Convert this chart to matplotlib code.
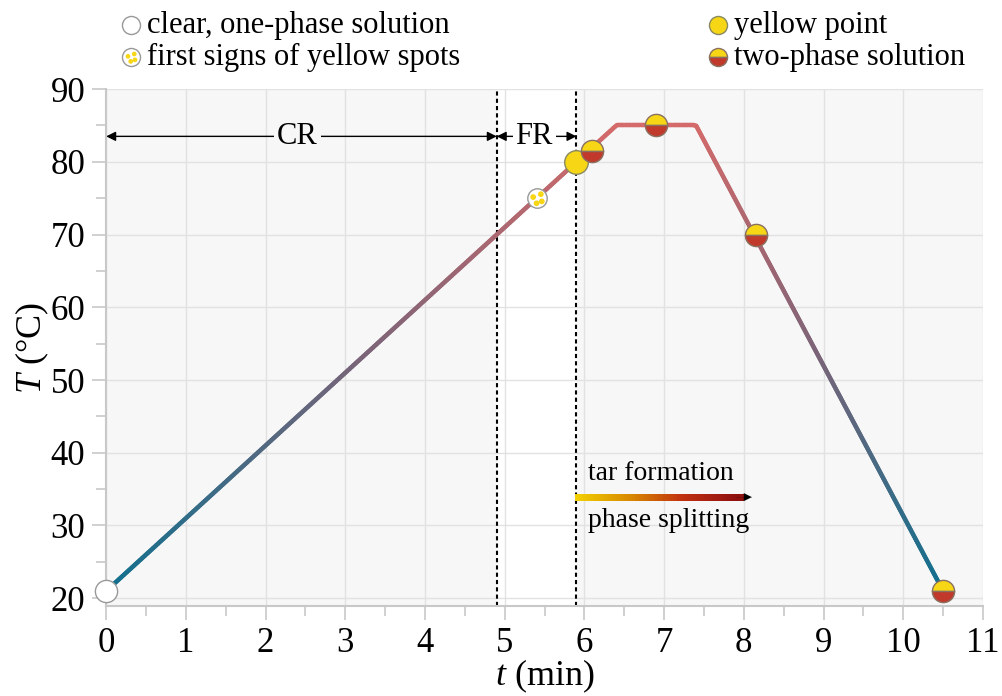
import numpy as np
import matplotlib
matplotlib.use('Agg')
import matplotlib.pyplot as plt
from matplotlib.collections import LineCollection
from matplotlib.colors import LinearSegmentedColormap
from matplotlib.lines import Line2D
from matplotlib.path import Path

plt.rcParams['font.family'] = ['Liberation Serif', 'DejaVu Serif']
plt.rcParams['mathtext.fontset'] = 'custom'
plt.rcParams['mathtext.rm'] = 'Liberation Serif'
plt.rcParams['mathtext.it'] = 'Liberation Serif:italic'

# temperature programme
line_t = [0, 6.4, 7.4, 10.5]
line_T = [21, 85, 85, 21]

# observations
clear_t, clear_T = [0], [21]
spots_t, spots_T = [5.4], [75]
yellow_t, yellow_T = [5.9], [80]
two_t = [6.1, 6.9, 8.15, 10.5]
two_T = [81.5, 85, 70, 21]

cr_end = 4.9
fr_end = 5.9
xticks = list(range(0, 12))
yticks = list(range(20, 91, 10))

YEL = '#f7d616'
RED = '#c0392b'
GRID = '#e2e2e2'

fig = plt.figure(figsize=(10.02, 6.96), dpi=100)
ax = fig.add_axes([0.106, 0.129, 0.875, 0.743])
ax.set_facecolor('#f7f7f7')
ax.set_xlim(0, 11)
ax.set_ylim(18.9, 90)

# white band for FR region
ax.axvspan(cr_end, fr_end, color='white', zorder=0)
ax.set_xticks(xticks)
ax.set_yticks(yticks)
ax.set_xticks(np.arange(0.5, 11, 1), minor=True)
ax.set_yticks(np.arange(25, 90, 10), minor=True)
ax.grid(True, which='major', color=GRID, lw=1.0, zorder=0.5)
ax.set_axisbelow(True)
for s in ['top', 'right']:
    ax.spines[s].set_visible(False)
for s in ['left', 'bottom']:
    ax.spines[s].set_color('#c8c8c8')
    ax.spines[s].set_linewidth(1.5)
ax.tick_params(which='both', color='#c8c8c8', width=1.2, labelsize=25)
ax.tick_params(which='major', length=10, pad=5)
ax.tick_params(which='minor', length=7)

ax.set_xlabel('$t$ (min)', fontsize=26, labelpad=-2)
ax.set_ylabel('$T$ (°C)', fontsize=26, labelpad=0)

# gradient coloured line
cmap = LinearSegmentedColormap.from_list('tc', ['#10708f', '#7a6478', '#d46a6a'])
s = np.linspace(0, 1, 600)
cum = np.concatenate([[0], np.cumsum(np.hypot(np.diff(line_t), np.diff(line_T) / 10))])
tt = np.interp(s * cum[-1], cum, line_t)
TT = np.interp(s * cum[-1], cum, line_T)
pts = np.array([tt, TT]).T.reshape(-1, 1, 2)
segs = np.concatenate([pts[:-1], pts[1:]], axis=1)
lc = LineCollection(segs, cmap=cmap, norm=plt.Normalize(21, 85), lw=3.2, zorder=3,
                    capstyle='round')
lc.set_array((TT[:-1] + TT[1:]) / 2)
ax.add_collection(lc)

# vertical dashed lines
for xv in [cr_end, fr_end]:
    ax.axvline(xv, color='black', ls=(0, (2, 1.5)), lw=1.5, zorder=2)

# CR / FR arrows
ya = 83.5
for x0, x1, lab, bg, xc in [(0, cr_end, 'CR', '#f7f7f7', 2.4),
                            (cr_end, fr_end, 'FR', 'white', 5.37)]:
    ax.annotate('', xy=(x0, ya), xytext=(x1, ya),
                arrowprops=dict(arrowstyle='<|-|>', color='black', lw=1,
                                mutation_scale=14, shrinkA=0, shrinkB=0), zorder=4)
    ax.text(xc, ya, lab, fontsize=22, ha='center', va='center', zorder=5,
            bbox=dict(facecolor=bg, edgecolor='none', pad=2))

# gradient arrow for tar formation
acmap = LinearSegmentedColormap.from_list('ar', ['#f2d000', '#d88a00', '#c03010', '#901010'])
ax_x = np.linspace(fr_end + 0.02, 7.95, 120)
ay = np.full_like(ax_x, 33.9)
apts = np.array([ax_x, ay]).T.reshape(-1, 1, 2)
asegs = np.concatenate([apts[:-1], apts[1:]], axis=1)
alc = LineCollection(asegs, cmap=acmap, lw=5, zorder=4, antialiaseds=False,
                     capstyle='projecting')
alc.set_array(np.linspace(0, 1, len(asegs)))
ax.add_collection(alc)
ax.annotate('', xy=(8.1, 33.9), xytext=(7.9, 33.9),
            arrowprops=dict(arrowstyle='-|>', color='black', lw=0.1,
                            mutation_scale=14, shrinkA=0, shrinkB=0), zorder=5)
ax.text(6.05, 35.4, 'tar formation', fontsize=20, ha='left', va='bottom', zorder=5)
ax.text(6.05, 32.4, 'phase splitting', fontsize=20, ha='left', va='top', zorder=5)

# dotted marker path
dots = Path.make_compound_path(*[Path.circle(c, 0.3) for c in
                                 [(0.35, 0.45), (-0.45, 0.15), (0.45, -0.3), (-0.1, -0.5)]])

ms = 16
ax.plot(clear_t, clear_T, 'o', ms=ms, mfc='white', mec='#999999', mew=1, zorder=6,
        clip_on=False)
ax.plot(spots_t, spots_T, 'o', ms=ms - 2, mfc='white', mec='#999999', mew=1, zorder=6)
ax.plot(spots_t, spots_T, ls='none', marker=dots, ms=11, mfc=YEL, mec='none', zorder=7)
ax.plot(yellow_t, yellow_T, 'o', ms=ms + 1, mfc=YEL, mec='#8a8a60', mew=1, zorder=6)
ax.plot(two_t, two_T, 'o', ms=ms, fillstyle='top', mfc=YEL, mfcalt=RED,
        mec='#8a7060', mew=1, zorder=6, clip_on=False)

# legend in figure coordinates
leg = [
    (0.131, 0.964, dict(mfc='white', mec='#999999'), 'clear, one-phase solution'),
    (0.131, 0.918, dict(mfc='white', mec='#999999'), 'first signs of yellow spots'),
    (0.717, 0.964, dict(mfc=YEL, mec='#8a8a60'), 'yellow point'),
    (0.717, 0.918, dict(mfc=YEL, mfcalt=RED, fillstyle='top', mec='#8a7060'),
     'two-phase solution'),
]
for x, y, kw, lab in leg:
    fig.add_artist(Line2D([x], [y], marker='o', ms=13, mew=1, ls='none',
                          transform=fig.transFigure, **kw))
    fig.text(x + 0.016, y, lab, fontsize=22, ha='left', va='center')
fig.add_artist(Line2D([0.131], [0.918], marker=dots, ms=9, mfc=YEL, mec='none',
                      ls='none', transform=fig.transFigure))

fig.savefig('out.png', dpi=100)
